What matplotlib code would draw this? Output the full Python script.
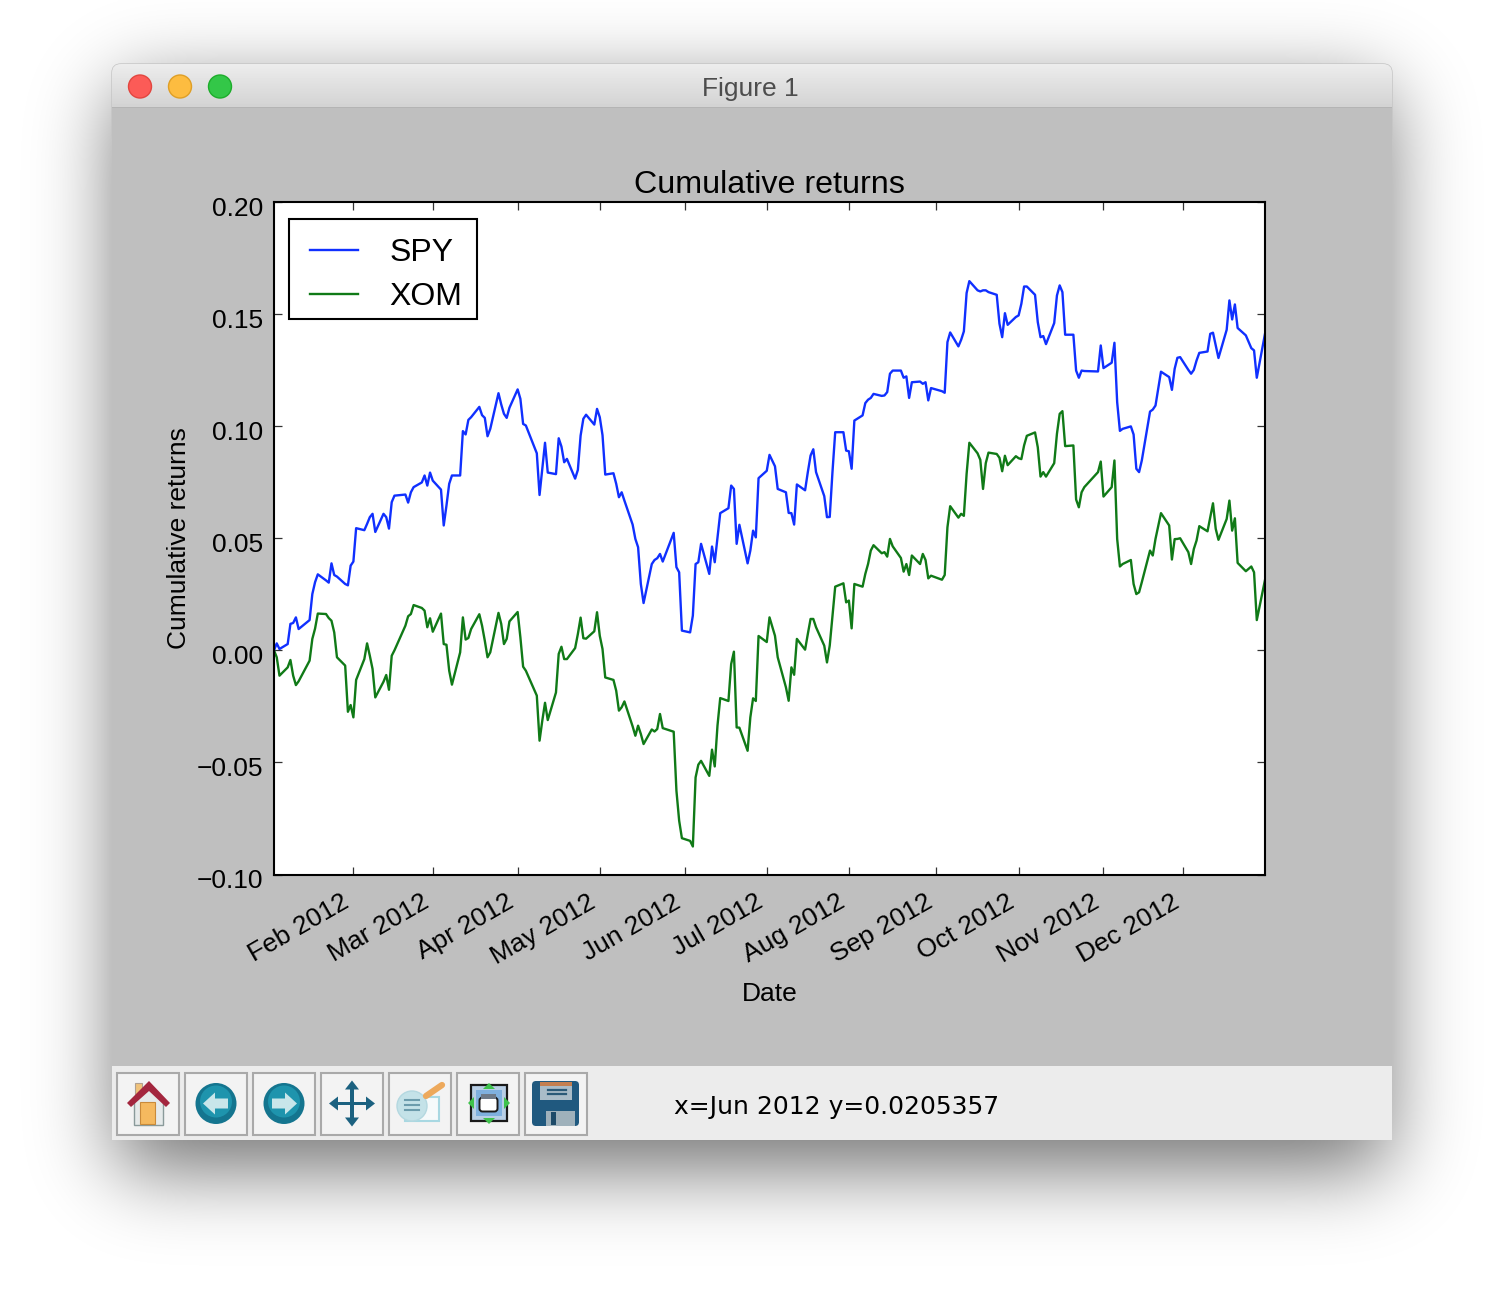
# Cumulative returns chart inside a mac style figure window
import matplotlib
matplotlib.use('Agg')
import matplotlib.pyplot as plt
import numpy as np
import pandas as pd
from matplotlib.legend_handler import HandlerLine2D
from matplotlib.lines import Line2D
from matplotlib.patches import Circle, FancyBboxPatch, Polygon, Rectangle
from matplotlib.transforms import ScaledTranslation

holidays = ['2012-01-16', '2012-02-20', '2012-04-06', '2012-05-28', '2012-07-04', '2012-09-03',
            '2012-10-29', '2012-10-30', '2012-11-22', '2012-12-25']

spy = [0, .0031, .0006, .0028, .0118, .0122, .0147, .0095, .0135, .0251, .0304, .0339, .0312, .0302, .0388, .0336,
       .0329, .0296, .0290,
       .0378, .0396, .0545, .0536, .0564, .0594, .0609, .0528, .0609, .0594, .0543, .0661, .0690, .0695, .0659, .0705,
       .0728, .0749, .0780, .0735,
       .0793, .0757, .0717, .0557, .0646, .0743, .0780, .0780, .0978, .0963, .1028, .1040, .1086, .1049, .1037, .0955,
       .0988, .1147, .1097, .1055, .1037, .1082,
       .1164, .1122, .1010, .1003, .0879, .0693, .0810, .0926, .0793, .0786, .0946, .0909, .0839, .0854, .0766, .0805,
       .0958, .1033, .1051, .1007,
       .1077, .1040, .0960, .0784, .0790, .0743, .0683, .0705, .0668, .0561, .0497, .0460, .0296, .0211, .0385, .0403,
       .0411, .0430, .0396, .0524, .0371, .0348,
       .0088, .0080, .0155, .0385, .0393, .0475, .0341, .0463, .0393, .0504, .0612, .0634, .0735, .0720, .0475, .0560,
       .0388, .0445, .0534, .0504, .0768,
       .0801, .0872, .0821, .0720, .0705, .0613, .0612, .0561, .0740, .0714, .0795, .0869, .0897, .0795, .0688, .0594,
       .0595, .0795, .0973, .0973, .0891,
       .0888, .0810, .1025, .1048, .1103, .1118, .1126, .1144, .1135, .1137, .1152, .1234, .1248, .1248, .1216, .1222,
       .1126, .1196, .1199, .1189, .1196, .1115, .1170,
       .1156, .1149, .1375, .1418, .1356, .1385, .1423, .1594, .1647, .1606, .1601, .1606, .1606, .1598, .1586, .1457,
       .1397, .1504, .1452,
       .1487, .1494, .1546, .1623, .1623, .1586, .1464, .1397, .1402, .1366, .1460, .1583, .1628, .1598, .1408, .1408,
       .1248, .1216, .1248, .1246, .1244,
       .1360, .1259, .1283, .1372, .1107, .0979, .0988, .0999, .0963, .0810, .0795, .0847, .1065, .1074, .1092, .1243,
       .1219, .1162, .1256, .1305, .1308,
       .1251, .1234, .1251, .1293, .1327, .1333, .1412, .1417, .1360, .1304, .1430, .1561, .1476, .1543, .1438, .1405,
       .1348, .1338, .1216, .1412]

xom = [0, -.0031, -.0113, -.0076, -.0043, -.0113, -.0155, -.0138, -.0046, .0051, .0097, .0164, .0162, .0144, .0132,
       .0080, -.0031, -.0068, -.0274,
       -.0244, -.0299, -.0132, -.0039, .0031, -.0024, -.0083, -.0210, -.0140, -.0110, -.0176, -.0024, .0000, .0110,
       .0152, .0162, .0202, .0189, .0177, .0103,
       .0143, .0083, .0164, .0028, .0025, -.0091, -.0153, -.0009, .0147, .0048, .0055, .0095, .0161, .0110, .0043,
       -.0031, -.0009, .0167, .0118, .0028, .0051, .0129,
       .0171, .0058, -.0073, -.0091, -.0202, -.0403, -.0314, -.0234, -.0311, -.0188, -.0016, .0016, -.0039, -.0039,
       .0010, .0073, .0146, .0054, .0052, .0085,
       .0170, .0065, .0006, -.0121, -.0132, -.0180, -.0269, -.0254, -.0228, -.0339, -.0381, -.0336, -.0373, -.0418,
       -.0353, -.0362, -.0351, -.0284, -.0347, -.0363, -.0626, -.0760,
       -.0838, -.0850, -.0875, -.0567, -.0510, -.0493, -.0560, -.0443, -.0518, -.0336, -.0213, -.0226, -.0061, -.0006,
       -.0344, -.0345, -.0448, -.0299, -.0214, -.0226, .0064,
       .0037, .0147, .0065, -.0031, -.0165, -.0225, -.0076, -.0109, .0051, .0003, .0073, .0140, .0140, .0103, .0021,
       -.0054, .0021, .0155, .0284, .0299, .0214,
       .0222, .0098, .0296, .0284, .0341, .0385, .0445, .0469, .0433, .0438, .0418, .0497, .0464, .0412, .0351, .0385,
       .0336, .0423, .0385, .0430, .0403, .0321, .0333,
       .0315, .0336, .0549, .0643, .0592, .0609, .0600, .0787, .0926, .0879, .0850, .0720, .0835, .0882, .0876, .0859,
       .0799, .0868, .0826,
       .0866, .0857, .0853, .0914, .0957, .0972, .0906, .0775, .0795, .0775, .0835, .0966, .1055, .1067, .0911, .0914,
       .0673, .0638, .0705, .0728, .0795,
       .0842, .0686, .0728, .0847, .0497, .0374, .0385, .0403, .0296, .0251, .0259, .0304, .0445, .0423, .0497, .0612,
       .0557, .0405, .0496, .0497, .0500,
       .0438, .0385, .0452, .0490, .0554, .0531, .0594, .0656, .0542, .0493, .0586, .0668, .0534, .0589, .0390, .0353,
       .0374, .0348, .0135, .0314]

tick_dates = ['2012-02-02', '2012-03-02', '2012-04-02', '2012-05-02', '2012-06-02', '2012-07-02', '2012-08-01',
              '2012-09-02', '2012-10-02', '2012-11-02', '2012-12-01']
tick_labels = ['Feb 2012', 'Mar 2012', 'Apr 2012', 'May 2012', 'Jun 2012', 'Jul 2012', 'Aug 2012', 'Sep 2012',
               'Oct 2012', 'Nov 2012', 'Dec 2012']
y_ticks = [-0.10, -0.05, 0.00, 0.05, 0.10, 0.15, 0.20]
y_labels = ['\u22120.10', '\u22120.05', '0.00', '0.05', '0.10', '0.15', '0.20']

dates = pd.bdate_range('2012-01-04', '2012-12-31').difference(pd.to_datetime(holidays))

W, H = 1504, 1300
plt.rcParams['font.family'] = ['Liberation Sans', 'DejaVu Sans']
fig = plt.figure(figsize=(W / 100, H / 100), dpi=100, facecolor='white')

# tlo w pikselach: cien, okno, pasek tytulu, toolbar
bg = fig.add_axes([0, 0, 1, 1], zorder=0)
bg.set_xlim(0, W)
bg.set_ylim(H, 0)
bg.axis('off')


def blur(a, sigma):
    r = int(sigma * 3)
    k = np.exp(-0.5 * (np.arange(-r, r + 1) / sigma) ** 2)
    k /= k.sum()
    a = np.apply_along_axis(lambda v: np.convolve(v, k, mode='same'), 0, a)
    return np.apply_along_axis(lambda v: np.convolve(v, k, mode='same'), 1, a)


mask = np.zeros((H // 2, W // 2))
mask[44:585, 58:694] = 1.0
shadow = blur(mask, 20) * 0.55
rgba = np.zeros(shadow.shape + (4,))
rgba[..., 3] = shadow
bg.imshow(rgba, extent=(0, W, H, 0), aspect='auto', interpolation='bilinear', zorder=1)
bg.set_xlim(0, W)
bg.set_ylim(H, 0)

title_box = FancyBboxPatch((112, 64), 1280, 80, boxstyle='round,pad=0,rounding_size=9', fc='#d8d8d8',
                           ec='#c4c4c4', lw=1, zorder=2)
bg.add_patch(title_box)
grad = np.linspace(0.925, 0.825, 44).reshape(-1, 1)
im = bg.imshow(grad, extent=(112, 1392, 108, 64), aspect='auto', cmap='gray', vmin=0, vmax=1, zorder=3)
im.set_clip_path(title_box)
bg.set_xlim(0, W)
bg.set_ylim(H, 0)
bg.add_patch(Rectangle((112, 107), 1280, 1.5, fc='#b4b4b4', ec='none', zorder=4))
bg.add_patch(Rectangle((112, 108), 1280, 958, fc='#bfbfbf', ec='none', zorder=4))
bg.add_patch(Rectangle((112, 1066), 1280, 74, fc='#ececec', ec='none', zorder=4))

for cx, fc, ec in [(140, '#fc5b57', '#e2463f'), (180, '#fdbc40', '#df9f26'), (220, '#33c748', '#1dad2b')]:
    bg.add_patch(Circle((cx, 86.5), 11.5, fc=fc, ec=ec, lw=1, zorder=5))
bg.text(750, 89, 'Figure 1', ha='center', va='center', fontsize=19, color='#4d4d4d', zorder=5)
bg.text(674, 1107, 'x=Jun 2012 y=0.0205357', ha='left', va='center', fontsize=18, color='black',
        family='DejaVu Sans', zorder=5)

centers = [148, 216, 284, 352, 420, 488, 556]
cy = 1103.5
for cx in centers:
    bg.add_patch(Rectangle((cx - 31, cy - 31), 62, 62, fc='#f3f3f3', ec='#a9a9a9', lw=1.5, zorder=5))


def poly(points, fc, ec='none', lw=0, z=6):
    bg.add_patch(Polygon(points, closed=True, fc=fc, ec=ec, lw=lw, zorder=z))


def rect(x0, y0, x1, y1, fc, ec='none', lw=0, z=6):
    bg.add_patch(Rectangle((x0, y0), x1 - x0, y1 - y0, fc=fc, ec=ec, lw=lw, zorder=z))


# home
rect(135, 1083, 142, 1094, '#f0c27a', '#b0a090', 0.8)
rect(134, 1100, 163, 1125, '#e6eaea', '#8a9a9a', 1)
poly([(134, 1102), (149, 1088), (163, 1102)], '#e6eaea')
rect(140, 1102, 155, 1124, '#f5b95f', '#c98a3a', 0.8)
poly([(127, 1103), (149, 1081), (170, 1103), (166, 1107), (149, 1091), (131, 1107)], '#a3263e', z=7)

# back / forward
for cx, sign in [(216, -1), (284, 1)]:
    bg.add_patch(Circle((cx, cy), 20.5, fc='#14758f', ec='none', zorder=6))
    bg.add_patch(Circle((cx, cy - 2), 16, fc='#1e94ad', ec='none', zorder=6))
    poly([(cx + sign * 13, cy), (cx + sign * 1, cy - 11), (cx + sign * 1, cy - 5), (cx - sign * 12, cy - 5),
          (cx - sign * 12, cy + 5), (cx + sign * 1, cy + 5), (cx + sign * 1, cy + 11)], '#c8e6ea', z=7)

# pan
cx = 352
col = '#1b6180'
rect(cx - 18, cy - 1.8, cx + 18, cy + 1.8, col)
rect(cx - 1.8, cy - 18, cx + 1.8, cy + 18, col)
poly([(cx - 23, cy), (cx - 14, cy - 7), (cx - 14, cy + 7)], col)
poly([(cx + 23, cy), (cx + 14, cy - 7), (cx + 14, cy + 7)], col)
poly([(cx, cy - 23), (cx - 7, cy - 14), (cx + 7, cy - 14)], col)
poly([(cx, cy + 23), (cx - 7, cy + 14), (cx + 7, cy + 14)], col)

# zoom
rect(405, 1097, 439, 1121, '#f6fafb', '#a8d8e2', 1.5)
bg.plot([426, 442], [1096, 1085], color='#eda95c', lw=4.5, solid_capstyle='round', zorder=8)
bg.add_patch(Circle((412, 1106), 15, fc='#c4e2e8', ec='#b4d8e0', lw=1, zorder=7))
for yy in [1100, 1105, 1110]:
    bg.plot([405, 419], [yy, yy], color='#6c9cac', lw=1.5, zorder=8)

# subplots
rect(471, 1085, 507, 1121, '#b8cfe6', '#1a1a1a', 1.6)
rect(476, 1090, 502, 1116, '#7fb0de')
bg.add_patch(FancyBboxPatch((481, 1099), 15, 11, boxstyle='round,pad=1.5,rounding_size=3', fc='white',
                            ec='#1a1a1a', lw=1.4, zorder=7))
rect(481, 1094, 496, 1099, '#6e7a88', z=8)
gr = '#3fc24c'
poly([(489, 1083), (483, 1089), (495, 1089)], gr, z=8)
poly([(489, 1124), (483, 1118), (495, 1118)], gr, z=8)
poly([(468, 1103), (474, 1097), (474, 1109)], gr, z=8)
poly([(510, 1103), (504, 1097), (504, 1109)], gr, z=8)

# save
bg.add_patch(FancyBboxPatch((534, 1083), 43, 41, boxstyle='round,pad=2,rounding_size=4', fc='#20597f', ec='none',
                            zorder=6))
rect(540, 1082, 572, 1100, '#a9bcc8')
rect(540, 1082, 572, 1086, '#c47f50', z=7)
for yy in [1090, 1094]:
    bg.plot([548, 566], [yy, yy], color='#2a5a78', lw=1.6, zorder=7)
rect(546, 1111, 575, 1126, '#9fb1bb')
rect(551, 1112, 556, 1125, '#1d4a68', z=7)

# wykres
ax = fig.add_axes([274 / W, 1 - 874.5 / H, 991 / W, 672.5 / H], zorder=2, facecolor='white')
ax.plot(dates, spy, color='#1030ff', lw=1.7, label='SPY')
ax.plot(dates, xom, color='#107a17', lw=1.7, label='XOM')
ax.set_xlim(dates[0], dates[-1])
ax.set_ylim(-0.10, 0.20)
ax.set_yticks(y_ticks)
ax.set_yticklabels(y_labels)
ax.set_xticks(pd.to_datetime(tick_dates))
ax.set_xticklabels(tick_labels, rotation=30, ha='right')
ax.minorticks_off()
ax.tick_params(direction='in', top=True, right=True, length=6, width=0.9, labelsize=19, color='#333333', pad=8)
ax.tick_params(axis='x', pad=11)
for spine in ax.spines.values():
    spine.set_linewidth(1.5)

shift = ScaledTranslation(0, -4 / 100, fig.dpi_scale_trans)
for label in ax.get_yticklabels():
    label.set_transform(label.get_transform() + shift)

ax.set_title('Cumulative returns', fontsize=23.2, pad=6.5)
ax.set_xlabel('Date', fontsize=19, labelpad=9.5)
ax.set_ylabel('Cumulative returns', fontsize=19, labelpad=4)

# ramka legendy osobno, bo tekst siedzi w niej nizej niz daje sam legend()
ax.add_patch(Rectangle((15 / 991, 1 - 117 / 672), 188 / 991, 100 / 672, transform=ax.transAxes, fc='white',
                       ec='black', lw=1.5, zorder=4))
ax.legend(loc='upper left', bbox_to_anchor=(15 / 991, 1 - 23 / 672), borderaxespad=0, fontsize=23, frameon=False,
          handlelength=2.0, handletextpad=0.75, borderpad=0.4, labelspacing=0.46,
          handler_map={Line2D: HandlerLine2D(numpoints=2, marker_pad=0.25)})

fig.savefig('out.png', dpi=100, facecolor='white')
